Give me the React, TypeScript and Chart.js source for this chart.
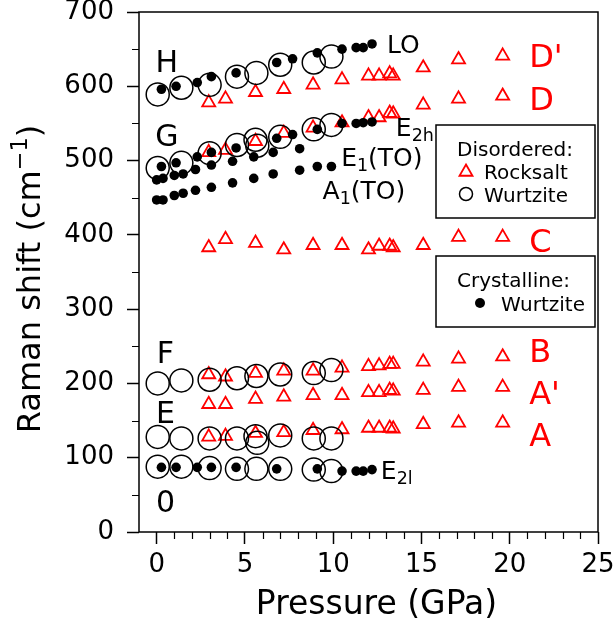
import React, { useEffect, useRef } from "react";
import { Chart, registerables } from "chart.js";

Chart.register(...registerables);

const FONT = '"DejaVu Sans", sans-serif';

// ---------- Data (Pressure in GPa, Raman shift in cm^-1) ----------
// Disordered wurtzite (open circles)
const circX = [0.06, 1.4, 3.0, 4.55, 5.65, 7.0, 8.9, 9.9];
const circXd = [0.06, 1.4, 3.0, 4.55, 5.6, 5.7, 7.0, 8.9, 9.9];
const circH = [589, 598, 602, 613, 618, 629, 632, 640];
const circG = [490, 497, 510, 521, 528, 520, 532, 542, 548];
const circF = [200, 204, 205, 207, 210, 212, 214, 218];
const circE = [128, 126, 126, 126, 129, 120, 130, 126, 126];
const circ0 = [88, 88, 86, 85, 85, 85, 84, 82];

// Crystalline wurtzite (filled dots)
const dotX = [0.27, 1.1, 2.3, 3.1, 4.5, 6.8, 7.7, 9.1, 10.5, 11.3, 11.7, 12.2];
const dotLO = [596, 600, 605, 613, 618, 632, 637, 645, 650, 652, 652, 657];
const dotE2h = [492, 497, 505, 511, 517, 530, 535, 542, 550, 550, 551, 552];
const dotXl = [0.27, 1.1, 2.3, 3.1, 4.5, 6.8, 9.1, 10.5, 11.3, 11.7, 12.2];
const dotE2l = [87, 87, 87, 87, 87, 85, 85, 82, 82, 82, 84];
const dotXt = [0, 0.36, 1.0, 1.5, 2.2, 3.1, 4.3, 5.5, 6.6, 8.1, 9.1, 9.9];
const dotA1 = [447, 447, 453, 456, 460, 464, 470, 476, 482, 487, 492, 492];
const dotE1 = [474, 476, 480, 482, 488, 494, 499, 505, 511, 516];

// Disordered rocksalt (open triangles)
const triX = [2.95, 3.9, 5.6, 7.2, 8.86, 10.5, 12.0, 12.6, 13.2, 13.4, 15.1, 17.1, 19.6];
const triDp = [578, 583, 592, 596, 602, 609, 614, 614, 617, 614, 625, 636, 641];
const triD = [511, 514, 526, 537, 544, 551, 558, 558, 564, 563, 575, 583, 587];
const triC = [383, 394, 389, 380, 386, 386, 380, 385, 385, 383, 386, 397, 397];
const triB = [212, 209, 214, 217, 217, 221, 223, 224, 226, 226, 229, 233, 236];
const triAp = [172, 172, 179, 182, 184, 184, 188, 188, 191, 190, 191, 195, 195];
const triA = [128, 129, 133, 134, 137, 138, 140, 140, 140, 139, 145, 147, 147];

const xTickValues = [0, 5, 10, 15, 20, 25];
const yTickValues = [0, 100, 200, 300, 400, 500, 600, 700];

// Text parts: [text, kind] where kind 0 = normal, 1 = subscript, 2 = superscript
type Part = [string, number];
const xTitle: Part[] = [["Pressure (GPa)", 0]];
const yTitle: Part[] = [["Raman shift (cm", 0], ["\u22121", 2], [")", 0]];
const blackLabels: [number, number, Part[]][] = [
  [0.58, 634, [["H", 0]]],
  [0.58, 534, [["G", 0]]],
  [0.5, 242, [["F", 0]]],
  [0.5, 162, [["E", 0]]],
  [0.5, 42, [["0", 0]]],
];
const modeLabels: [number, number, Part[]][] = [
  [13.05, 657, [["LO", 0]]],
  [13.55, 545, [["E", 0], ["2h", 1]]],
  [10.45, 505, [["E", 0], ["1", 1], ["(TO)", 0]]],
  [9.4, 460, [["A", 0], ["1", 1], ["(TO)", 0]]],
  [12.7, 83, [["E", 0], ["2l", 1]]],
];
const redLabels: [number, number, string][] = [
  [21.1, 641, "D'"],
  [21.1, 584, "D"],
  [21.1, 393, "C"],
  [21.1, 245, "B"],
  [21.1, 188, "A'"],
  [21.1, 132, "A"],
];

const zip = (xs: number[], ys: number[]) => ys.map((y, i) => ({ x: xs[i], y }));

function drawParts(
  ctx: CanvasRenderingContext2D,
  x: number,
  cy: number,
  parts: Part[],
  size: number,
  color: string,
  align: "left" | "center"
) {
  ctx.save();
  ctx.fillStyle = color;
  ctx.textBaseline = "alphabetic";
  ctx.textAlign = "left";
  const base = cy + 0.3645 * size;
  let total = 0;
  const items = parts.map(([t, kind]) => {
    const s = kind ? size * 0.7 : size;
    ctx.font = `${s}px ${FONT}`;
    const w = ctx.measureText(t).width;
    total += w;
    return { t, kind, s, w };
  });
  let cx = align === "center" ? x - total / 2 : x;
  for (const it of items) {
    ctx.font = `${it.s}px ${FONT}`;
    const dy = it.kind === 1 ? 0.2 * size : it.kind === 2 ? -0.4 * size : 0;
    ctx.fillText(it.t, cx, base + dy);
    cx += it.w;
  }
  ctx.restore();
}

function triPath(ctx: CanvasRenderingContext2D, x: number, y: number, r: number) {
  ctx.beginPath();
  ctx.moveTo(x, y - r);
  ctx.lineTo(x + r * Math.sin((2 * Math.PI) / 3), y - r * Math.cos((2 * Math.PI) / 3));
  ctx.lineTo(x + r * Math.sin((4 * Math.PI) / 3), y - r * Math.cos((4 * Math.PI) / 3));
  ctx.closePath();
}

const decorPlugin = {
  id: "decor",
  afterDraw(chart: any) {
    const { ctx, chartArea: ca, scales } = chart;
    const xs = scales.x;
    const ys = scales.y;
    ctx.save();
    // frame
    ctx.strokeStyle = "#000";
    ctx.lineWidth = 1.5;
    ctx.strokeRect(ca.left, ca.top, ca.right - ca.left, ca.bottom - ca.top);
    // minor ticks
    ctx.lineWidth = 1.2;
    ctx.beginPath();
    for (let v = 0; v <= 25; v++) {
      if (v % 5 === 0) continue;
      const px = Math.round(xs.getPixelForValue(v)) + 0.5;
      ctx.moveTo(px, ca.bottom);
      ctx.lineTo(px, ca.bottom + 7);
    }
    for (let v = 50; v < 700; v += 100) {
      const py = Math.round(ys.getPixelForValue(v)) + 0.5;
      ctx.moveTo(ca.left, py);
      ctx.lineTo(ca.left - 7, py);
    }
    ctx.stroke();

    // axis titles
    drawParts(ctx, (ca.left + ca.right) / 2 + 8, ca.bottom + 70, xTitle, 33, "#000", "center");
    ctx.save();
    ctx.translate(28, (ca.top + ca.bottom) / 2 + 7);
    ctx.rotate(-Math.PI / 2);
    drawParts(ctx, 0, 0, yTitle, 32, "#000", "center");
    ctx.restore();

    // labels
    for (const [x, y, parts] of blackLabels) {
      drawParts(ctx, xs.getPixelForValue(x), ys.getPixelForValue(y), parts, 30, "#000", "center");
    }
    for (const [x, y, parts] of modeLabels) {
      drawParts(ctx, xs.getPixelForValue(x), ys.getPixelForValue(y), parts, 25, "#000", "left");
    }
    for (const [x, y, t] of redLabels) {
      drawParts(ctx, xs.getPixelForValue(x), ys.getPixelForValue(y), [[t, 0]], 32, "#ff0000", "left");
    }

    // legend boxes
    const L = ca.right - 162;
    const W = 159;
    ctx.lineWidth = 1.5;
    ctx.strokeStyle = "#000";
    ctx.fillStyle = "#fff";
    // disordered
    const t1 = ca.top + 113;
    ctx.fillRect(L, t1, W, 93);
    ctx.strokeRect(L, t1, W, 93);
    drawParts(ctx, L + 21, t1 + 24, [["Disordered:", 0]], 20, "#000", "left");
    triPath(ctx, L + 30, t1 + 47, 7.5);
    ctx.strokeStyle = "#ff0000";
    ctx.lineWidth = 1.8;
    ctx.stroke();
    drawParts(ctx, L + 48, t1 + 47, [["Rocksalt", 0]], 20, "#000", "left");
    ctx.beginPath();
    ctx.arc(L + 30, t1 + 69, 6.5, 0, Math.PI * 2);
    ctx.strokeStyle = "#000";
    ctx.lineWidth = 1.5;
    ctx.stroke();
    drawParts(ctx, L + 48, t1 + 70, [["Wurtzite", 0]], 20, "#000", "left");
    // crystalline
    const t2 = ca.top + 244;
    ctx.fillStyle = "#fff";
    ctx.fillRect(L, t2, W, 71);
    ctx.strokeRect(L, t2, W, 71);
    drawParts(ctx, L + 21, t2 + 24, [["Crystalline:", 0]], 20, "#000", "left");
    ctx.beginPath();
    ctx.arc(L + 44, t2 + 47, 5, 0, Math.PI * 2);
    ctx.fillStyle = "#000";
    ctx.fill();
    drawParts(ctx, L + 65, t2 + 48, [["Wurtzite", 0]], 20, "#000", "left");
    ctx.restore();
  },
};

export default function App() {
  const ref = useRef<HTMLCanvasElement | null>(null);
  useEffect(() => {
    if (!ref.current) return;
    const circ = (xs: number[], ys: number[]) => ({
      data: zip(xs, ys),
      pointStyle: "circle",
      pointRadius: 11.5,
      backgroundColor: "rgba(0,0,0,0)",
      borderColor: "#000",
      borderWidth: 1.5,
      showLine: false,
    });
    const tri = (ys: number[]) => ({
      data: zip(triX, ys),
      pointStyle: "triangle",
      pointRadius: 7.5,
      backgroundColor: "rgba(0,0,0,0)",
      borderColor: "#ff0000",
      borderWidth: 1.8,
      showLine: false,
    });
    const dot = (xs: number[], ys: number[]) => ({
      data: zip(xs, ys),
      pointStyle: "circle",
      pointRadius: 4.8,
      backgroundColor: "#000",
      borderColor: "#000",
      borderWidth: 0,
      showLine: false,
    });
    const tickFont = { family: FONT, size: 26 };
    const chart = new Chart(ref.current, {
      type: "scatter",
      data: {
        datasets: [
          circ(circX, circH),
          circ(circXd, circG),
          circ(circX, circF),
          circ(circXd, circE),
          circ(circX, circ0),
          dot(dotX, dotLO),
          dot(dotX, dotE2h),
          dot(dotXl, dotE2l),
          dot(dotXt, dotA1),
          dot(dotXt, dotE1),
          tri(triDp),
          tri(triD),
          tri(triC),
          tri(triB),
          tri(triAp),
          tri(triA),
        ] as any,
      },
      options: {
        animation: false,
        responsive: false,
        events: [],
        layout: { padding: { left: 0, top: 12, right: 18, bottom: 0 }, autoPadding: false },
        plugins: { legend: { display: false }, tooltip: { enabled: false } },
        scales: {
          x: {
            type: "linear",
            min: -1,
            max: 25,
            afterBuildTicks: (s: any) => {
              s.ticks = xTickValues.map((v) => ({ value: v }));
            },
            afterFit: (s: any) => {
              s.height = 97;
              s.paddingLeft = 0;
              s.paddingRight = 0;
              s.paddingTop = 0;
              s.paddingBottom = 0;
            },
            grid: { display: true, drawOnChartArea: false, drawTicks: true, tickLength: 12, tickWidth: 1.5, tickColor: "#000" },
            border: { display: false },
            ticks: { font: tickFont, color: "#000", padding: 6, maxRotation: 0, autoSkip: false },
            title: { display: false },
          },
          y: {
            type: "linear",
            min: 0,
            max: 700,
            afterBuildTicks: (s: any) => {
              s.ticks = yTickValues.map((v) => ({ value: v }));
            },
            afterFit: (s: any) => {
              s.width = 139;
              s.paddingLeft = 0;
              s.paddingRight = 0;
              s.paddingTop = 0;
              s.paddingBottom = 0;
            },
            grid: { display: true, drawOnChartArea: false, drawTicks: true, tickLength: 12, tickWidth: 1.5, tickColor: "#000" },
            border: { display: false },
            ticks: { font: tickFont, color: "#000", padding: 13, autoSkip: false },
            title: { display: false },
          },
        },
      },
      plugins: [decorPlugin],
    } as any);
    return () => chart.destroy();
  }, []);
  return (
    <div style={{ position: "fixed", left: 0, top: 0, width: 616, height: 629, background: "#fff" }}>
      <canvas ref={ref} width={616} height={629} style={{ width: 616, height: 629, display: "block" }} />
    </div>
  );
}
